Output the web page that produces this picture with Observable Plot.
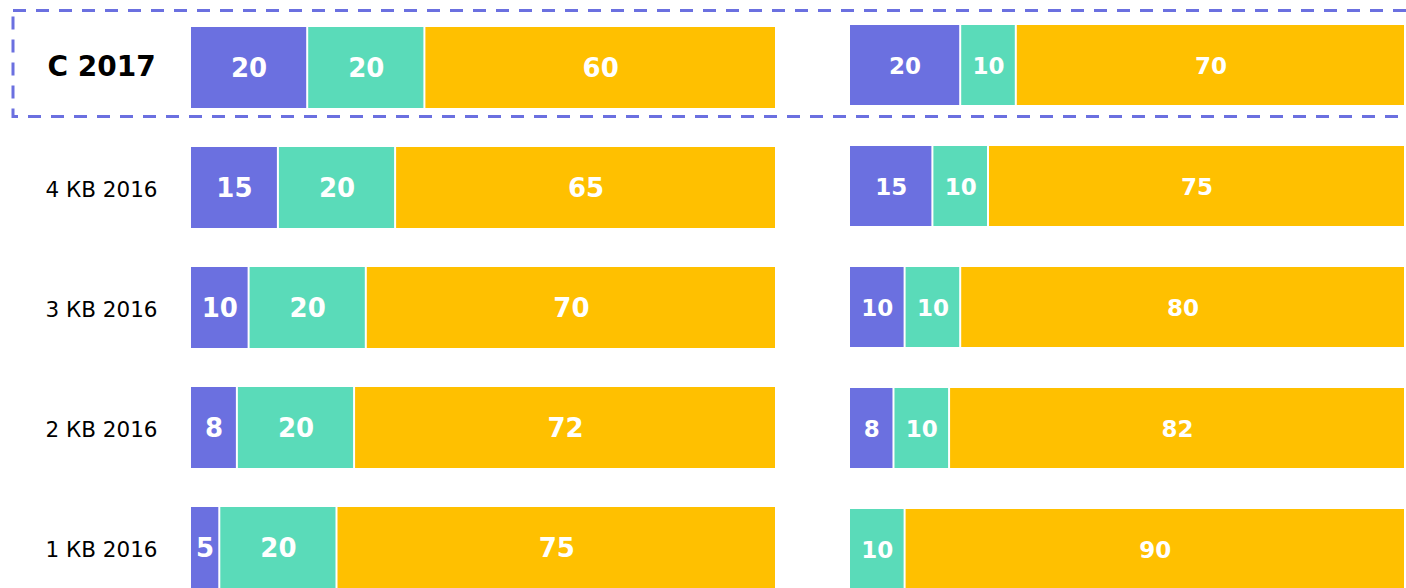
<!DOCTYPE html>
<html>
<head>
<meta charset="utf-8">
<script src="https://cdn.jsdelivr.net/npm/d3@7"></script>
<script src="https://cdn.jsdelivr.net/npm/@observablehq/plot@0.6"></script>
<style>
  html, body { margin: 0; padding: 0; background: #fff; overflow: hidden; }
  #wrap { position: relative; width: 1406px; height: 588px; font-family: "DejaVu Sans", Verdana, sans-serif; }
  #wrap > div, #wrap > svg { position: absolute; top: 0; }
</style>
</head>
<body>
<div id="wrap"></div>
<script>
const rows = ["С 2017", "4 КВ 2016", "3 КВ 2016", "2 КВ 2016", "1 КВ 2016"];
const seriesNames = ["Серия 1", "Серия 2", "Серия 3"];
const seriesColors = ["#6b70e0", "#5adbb9", "#ffc000"];

const leftPurple = [20, 15, 10, 8, 5];
const leftTeal   = [20, 20, 20, 20, 20];
const leftYellow = [60, 65, 70, 72, 75];

const rightPurple = [20, 15, 10, 8, 0];
const rightTeal   = [10, 10, 10, 10, 10];
const rightYellow = [70, 75, 80, 82, 90];

function table(a, b, c) {
  const out = [];
  rows.forEach((r, i) => {
    [a, b, c].forEach((arr, j) => out.push({row: r, series: seriesNames[j], value: arr[i]}));
  });
  return out;
}

const leftData = table(leftPurple, leftTeal, leftYellow);
const rightData = table(rightPurple, rightTeal, rightYellow);

function panel(data, opts) {
  const marks = [
    Plot.barX(data, Plot.stackX({x: "value", y: "row", fill: "series", insetLeft: 1, insetRight: 1})),
    Plot.text(data, Plot.stackX({
      x: "value", y: "row", z: "series", text: d => String(d.value),
      filter: d => d.value > 0, fill: "white", fontWeight: "bold", fontSize: opts.labelSize, dy: 1
    }))
  ];
  if (opts.axis) {
    marks.push(
      Plot.axisY({ticks: rows.slice(0, 1), tickSize: 0, tickPadding: 89, textAnchor: "middle",
                  fontSize: 28, fontWeight: "bold", label: null, fill: "#000", dy: -1}),
      Plot.axisY({ticks: rows.slice(1), tickSize: 0, tickPadding: 89, textAnchor: "middle",
                  fontSize: 21.5, label: null, fill: "#000", dy: 2})
    );
  }
  return Plot.plot({
    width: opts.width,
    height: 588,
    marginLeft: opts.marginLeft,
    marginRight: opts.marginRight,
    marginTop: 0,
    marginBottom: 0,
    style: {fontFamily: "DejaVu Sans, Verdana, sans-serif", background: "transparent", overflow: "hidden"},
    x: {domain: [0, 100], axis: null},
    y: {domain: rows, range: opts.yRange, paddingInner: opts.pad, paddingOuter: 0, axis: null},
    color: {domain: seriesNames, range: seriesColors},
    marks
  });
}

const wrap = document.getElementById("wrap");

const left = panel(leftData, {width: 790, marginLeft: 190, marginRight: 14, yRange: [26, 589], pad: 0.328, labelSize: 26, axis: true});
const leftBox = document.createElement("div");
leftBox.style.left = "0px";
leftBox.appendChild(left);
wrap.appendChild(leftBox);

const right = panel(rightData, {width: 616, marginLeft: 59, marginRight: 1, yRange: [24, 590], pad: 0.342, labelSize: 23, axis: false});
const rightBox = document.createElement("div");
rightBox.style.left = "790px";
rightBox.appendChild(right);
wrap.appendChild(rightBox);

// dashed highlight frame around the first row
const overlay = d3.create("svg")
  .attr("width", 1406).attr("height", 588)
  .style("left", "0px").style("pointer-events", "none");
overlay.append("rect")
  .attr("x", 13).attr("y", 10.5).attr("width", 1410).attr("height", 106)
  .attr("fill", "none").attr("stroke", "#6b70e0").attr("stroke-width", 3)
  .attr("stroke-dasharray", "13 10");
wrap.appendChild(overlay.node());
</script>
</body>
</html>
